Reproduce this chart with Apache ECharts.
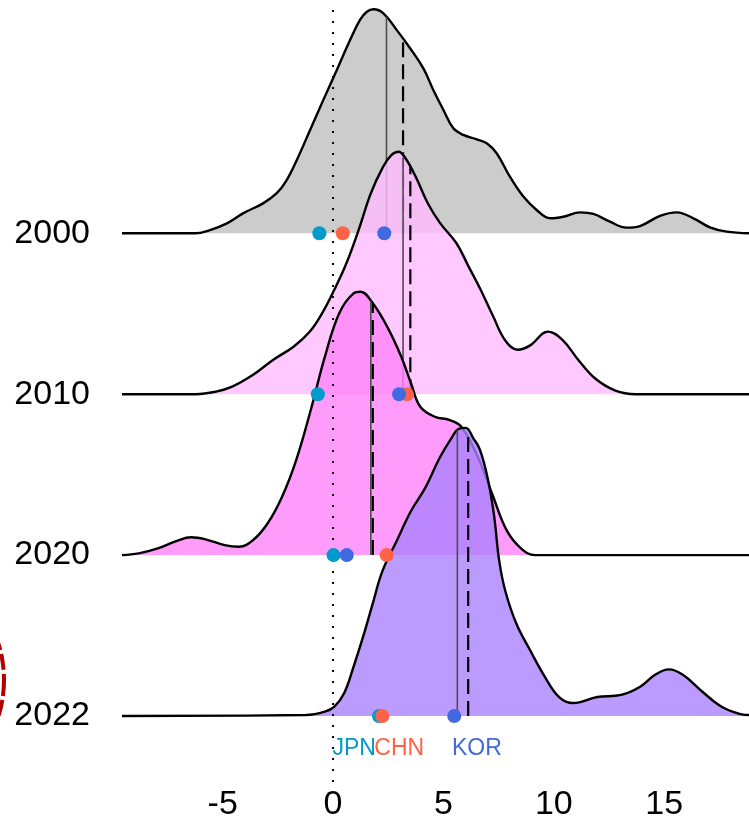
<!DOCTYPE html>
<html><head><meta charset="utf-8">
<script src="https://cdn.jsdelivr.net/npm/echarts@6.0.0/dist/echarts.min.js"></script>
<style>html,body{margin:0;padding:0;background:#fff}#c{width:749px;height:818px}</style>
</head><body><div id="c"></div>
<script>
// ---- data ----
const years = ['2000', '2010', '2020', '2022'];
const xTicks = [-5, 0, 5, 10, 15];
const xMin = -9.56, xMax = 18.84;
const yMin = -0.41, yMax = 4.4;

// density curves: [x, height in row units]
const dens2000 = [[-9.56,0],[-6.25,0],[-5.58,0.02],[-4.83,0.06],[-4.08,0.124],[-3.17,0.186],[-2.55,0.249],[-2.10,0.331],[-1.64,0.456],[-1.04,0.642],[-0.44,0.829],[0.17,1.015],[0.77,1.201],[1.22,1.326],[1.53,1.377],[1.83,1.392],[2.28,1.367],[2.88,1.264],[3.49,1.15],[4.09,1.025],[4.54,0.891],[5.0,0.766],[5.45,0.652],[5.90,0.611],[6.51,0.584],[6.96,0.559],[7.41,0.497],[8.01,0.352],[8.62,0.228],[9.22,0.145],[9.83,0.093],[10.43,0.103],[11.19,0.130],[11.79,0.120],[12.54,0.072],[13.30,0.035],[13.90,0.045],[14.81,0.108],[15.57,0.130],[16.32,0.093],[17.07,0.037],[17.83,0.010],[18.84,0]];
const dens2010 = [[-9.56,0],[-6.22,0],[-5.30,0.016],[-4.57,0.047],[-3.64,0.119],[-2.72,0.213],[-1.79,0.295],[-1.06,0.388],[-0.50,0.502],[0.05,0.647],[0.60,0.812],[1.16,1.021],[1.71,1.248],[2.27,1.414],[2.64,1.486],[2.97,1.507],[3.28,1.466],[3.74,1.352],[4.29,1.187],[4.85,1.063],[5.59,0.938],[6.14,0.793],[6.69,0.648],[7.25,0.484],[7.80,0.334],[8.36,0.276],[8.91,0.302],[9.74,0.389],[10.39,0.338],[11.11,0.213],[11.86,0.099],[12.79,0.022],[13.71,0],[18.84,0]];
const dens2020 = [[-9.56,0],[-8.80,0.011],[-7.94,0.042],[-7.07,0.089],[-6.43,0.111],[-5.78,0.098],[-4.91,0.062],[-4.26,0.052],[-3.62,0.094],[-2.96,0.198],[-2.31,0.363],[-1.67,0.591],[-1.01,0.902],[-0.37,1.233],[0.28,1.503],[0.93,1.627],[1.25,1.637],[1.80,1.565],[2.45,1.420],[3.09,1.233],[3.53,1.068],[3.95,0.922],[4.61,0.860],[5.26,0.840],[5.80,0.799],[6.55,0.612],[7.20,0.383],[7.86,0.155],[8.51,0.042],[9.15,0],[18.84,0]];
const dens2022 = [[-9.56,0],[-1.23,0.006],[-0.37,0.027],[0.06,0.058],[0.50,0.141],[0.93,0.307],[1.36,0.493],[1.80,0.700],[2.23,0.899],[2.88,1.088],[3.53,1.274],[4.18,1.419],[4.83,1.605],[5.37,1.729],[5.69,1.785],[6.01,1.791],[6.34,1.729],[6.66,1.653],[7.02,1.467],[7.29,1.249],[7.52,0.970],[7.79,0.783],[8.29,0.578],[8.92,0.410],[9.60,0.242],[10.24,0.118],[10.87,0.081],[11.97,0.118],[13.05,0.131],[13.91,0.182],[14.57,0.255],[15.21,0.290],[15.86,0.255],[16.73,0.151],[17.60,0.058],[18.46,0.012],[18.84,0.006]];

// vertical segments (solid / dashed) per year
const solidX = [2.42, 3.17, 1.71, 5.63];
const solidH = [1.345, 1.47, 1.58, 1.78];
const dashX  = [3.17, 3.50, 1.80, 6.12];
const dashH  = [1.20, 1.41, 1.56, 1.77];

// country points per year
const countries = ['JPN', 'CHN', 'KOR'];
const jpnX = [-0.62, -0.69, 0.02, 2.08];
const chnX = [0.44, 3.34, 2.43, 2.23];
const korX = [2.32, 2.99, 0.62, 5.49];

// country labels under the last row
const labelX = [0.98, 3.02, 6.54];
const labelY = -0.205;

// ---- chart ----
const FONT = '"Liberation Sans", Arial, sans-serif';
const fills = ['#BFBFBF', '#FFBBFF', '#FF83FA', '#AB82FF'];
const ccol = ['#009ACD', '#FF6347', '#4169E1'];
const densities = [dens2000, dens2010, dens2020, dens2022];
const pts = [jpnX, chnX, korX];
const n = years.length;

const series = [];
years.forEach((yr, i) => {
  const base = n - 1 - i;
  series.push({
    type: 'line', name: yr,
    data: densities[i].map(p => [p[0], base + p[1]]),
    smooth: 0.4, symbol: 'none', silent: true,
    lineStyle: { color: '#000', width: 2.4 },
    areaStyle: { color: fills[i], opacity: 0.8, origin: base },
    z: 2 + i * 2
  });
  series.push({
    type: 'line', data: [[solidX[i], base], [solidX[i], base + solidH[i]]],
    symbol: 'none', silent: true,
    lineStyle: { color: '#4d4d4d', width: 1.6 }, z: 3 + i * 2
  });
  series.push({
    type: 'line', data: [[dashX[i], base], [dashX[i], base + dashH[i]]],
    symbol: 'none', silent: true,
    lineStyle: { color: '#000', width: 2.2, type: [15, 7] }, z: 3 + i * 2
  });
});

// dotted zero line
series.push({
  type: 'line', data: [[0, yMin], [0, yMax]], symbol: 'none', silent: true,
  lineStyle: { color: '#000', width: 2, type: [2, 9] }, z: 15
});

countries.forEach((c, k) => {
  series.push({
    type: 'scatter', name: c, symbolSize: 14, silent: true,
    data: pts[k].map((x, i) => [x, n - 1 - i]),
    itemStyle: { color: ccol[k], opacity: 1 }, z: 20 + k
  });
});

series.push({
  type: 'scatter', symbolSize: 1, silent: true,
  data: labelX.map((x, k) => ({
    value: [x, labelY],
    label: { show: true, position: [0, 0], align: 'center', verticalAlign: 'middle',
             formatter: countries[k], color: ccol[k], opacity: 1,
             textBorderWidth: 0, fontSize: 23, fontFamily: FONT }
  })),
  itemStyle: { color: 'rgba(0,0,0,0)' }, z: 25
});

const chart = echarts.init(document.getElementById('c'), null, { renderer: 'canvas' });
chart.setOption({
  animation: false,
  backgroundColor: '#fff',
  grid: { left: 122, right: 0, top: 8, bottom: 36, outerBoundsMode: 'none', containLabel: false },
  xAxis: {
    type: 'value', min: xMin, max: xMax,
    axisLine: { show: false }, axisTick: { show: false }, splitLine: { show: false },
    axisLabel: { customValues: xTicks, fontSize: 34, color: '#000', fontFamily: FONT, margin: 6 }
  },
  yAxis: {
    type: 'value', min: yMin, max: yMax,
    axisLine: { show: false }, axisTick: { show: false }, splitLine: { show: false },
    axisLabel: {
      customValues: [0, 1, 2, 3], fontSize: 34, color: '#000', fontFamily: FONT, margin: 32,
      padding: [7, 0, 0, 0],
      formatter: v => years[n - 1 - Math.round(v)]
    }
  },
  graphic: [{
    type: 'circle', shape: { cx: -118, cy: 680, r: 122 }, silent: true,
    style: { fill: 'none', stroke: '#B00000', lineWidth: 4, lineDash: [16, 4] }, z: 100
  }],
  series: series
});
</script></body></html>
